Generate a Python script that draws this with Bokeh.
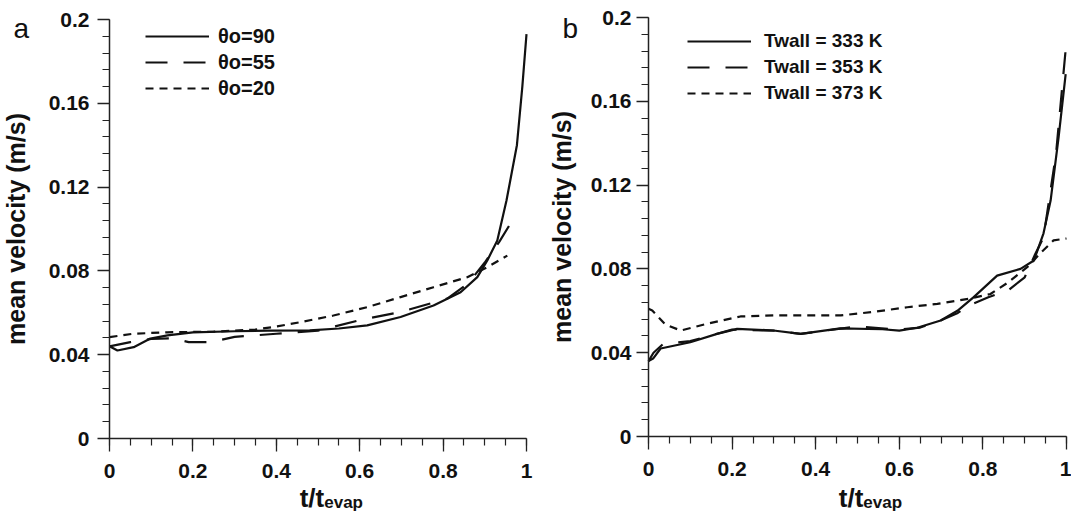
import numpy as np
from bokeh.plotting import figure
from bokeh.layouts import row
from bokeh.models import Range1d, FixedTicker, Legend, LegendItem, Label
from bokeh.embed import file_html
from bokeh.resources import INLINE

# ---------------- data ----------------
# Panel a: contact angle series
a_x_90 = [0, 0.019, 0.058, 0.098, 0.139, 0.2, 0.3, 0.38, 0.48, 0.55, 0.618, 0.698,
          0.777, 0.842, 0.882, 0.906, 0.93, 0.952, 0.977, 0.99, 1.0]
a_v_90 = [0.044, 0.042, 0.0436, 0.0477, 0.0492, 0.0507, 0.0512, 0.0515, 0.0516, 0.0525,
          0.054, 0.058, 0.0635, 0.0698, 0.077, 0.085, 0.0945, 0.1136, 0.140, 0.168, 0.193]

a_x_55 = [0, 0.05, 0.1, 0.15, 0.19, 0.243, 0.3, 0.4, 0.5, 0.6, 0.7, 0.81, 0.86, 0.9,
          0.935, 0.975]
a_v_55 = [0.044, 0.046, 0.0475, 0.0478, 0.046, 0.046, 0.0485, 0.050, 0.0515, 0.0565,
          0.0605, 0.0668, 0.074, 0.084, 0.094, 0.107]

a_x_20 = [0, 0.057, 0.138, 0.25, 0.35, 0.402, 0.457, 0.537, 0.618, 0.698, 0.777, 0.858,
          0.906, 0.954]
a_v_20 = [0.0484, 0.050, 0.0507, 0.051, 0.052, 0.0535, 0.0555, 0.0587, 0.0627, 0.0675,
          0.0722, 0.077, 0.0818, 0.0873]

# Panel b: wall temperature series
b_x_333 = [0, 0.011, 0.029, 0.1, 0.164, 0.212, 0.299, 0.364, 0.459, 0.56, 0.6, 0.643,
           0.699, 0.739, 0.778, 0.834, 0.89, 0.922, 0.945, 0.962, 0.981, 0.998]
b_v_333 = [0.036, 0.0372, 0.042, 0.045, 0.049, 0.0514, 0.0506, 0.049, 0.0516, 0.0512,
           0.0505, 0.0519, 0.0554, 0.060, 0.0665, 0.0768, 0.080, 0.084, 0.097, 0.1126,
           0.1427, 0.173]

b_x_353 = [0, 0.012, 0.035, 0.1, 0.2, 0.3, 0.364, 0.46, 0.5, 0.6, 0.65, 0.7, 0.74, 0.766,
           0.813, 0.86, 0.9, 0.925, 0.945, 0.975, 1.0]
b_v_353 = [0.036, 0.04, 0.0442, 0.0455, 0.051, 0.0505, 0.049, 0.0515, 0.0525, 0.051,
           0.052, 0.0555, 0.059, 0.0625, 0.0665, 0.0697, 0.076, 0.087, 0.095, 0.135, 0.189]

b_x_373 = [0, 0.009, 0.04, 0.077, 0.14, 0.22, 0.3, 0.46, 0.54, 0.619, 0.691, 0.77, 0.818,
           0.86, 0.906, 0.94, 0.969, 1.0]
b_v_373 = [0.061, 0.0601, 0.0535, 0.0506, 0.0538, 0.0573, 0.0578, 0.0578, 0.0595, 0.0617,
           0.0633, 0.0659, 0.068, 0.0735, 0.0808, 0.088, 0.0936, 0.0945]

a_labels = ["θo=90", "θo=55", "θo=20"]
b_labels = ["Twall = 333 K", "Twall = 353 K", "Twall = 373 K"]

x_ticks = [0, 0.2, 0.4, 0.6, 0.8, 1.0]
x_tick_labels = ["0", "0.2", "0.4", "0.6", "0.8", "1"]
y_ticks = [0, 0.04, 0.08, 0.12, 0.16, 0.2]
y_tick_labels = ["0", "0.04", "0.08", "0.12", "0.16", "0.2"]

y_title = "mean velocity (m/s)"
x_title_main = "t/t"
x_title_sub = "evap"

FONT = "Liberation Sans"
INK = "#111111"
DASHES = ["solid", "22 16", "8 6"]
H = 513


def make_panel(width, ax_left, ax_right, ax_top, ax_bottom, series, labels, letter,
               letter_px, letter_base, leg_px, leg_top, leg_standoff, leg_font,
               ylab_standoff, ytick_standoff, title_x):
    # pixel geometry of the axes box inside this canvas
    sx = (ax_right - ax_left) / 1.0
    sy = (ax_bottom - ax_top) / 0.2
    xr = Range1d(-ax_left / sx, (width - ax_left) / sx)
    yr = Range1d(-(H - ax_bottom) / sy, 0.2 + ax_top / sy)
    p = figure(width=width, height=H, output_backend="svg", toolbar_location=None,
               x_range=xr, y_range=yr, min_border=0)
    p.outline_line_color = None
    p.xgrid.visible = False
    p.ygrid.visible = False
    p.background_fill_color = "white"
    p.border_fill_color = "white"

    x_minor = [round(v, 3) for v in np.arange(0, 1.0001, 0.05)]
    y_minor = [round(v, 4) for v in np.arange(0, 0.2001, 0.008)]
    p.xaxis.ticker = FixedTicker(ticks=x_ticks, minor_ticks=x_minor)
    p.yaxis.ticker = FixedTicker(ticks=y_ticks, minor_ticks=y_minor)
    p.xaxis.major_label_overrides = {t: l for t, l in zip(x_ticks, x_tick_labels)}
    p.yaxis.major_label_overrides = {t: l for t, l in zip(y_ticks, y_tick_labels)}
    p.xaxis.fixed_location = 0
    p.yaxis.fixed_location = 0
    p.xaxis.bounds = (0, 1)
    p.yaxis.bounds = (0, 0.2)

    for ax in (p.xaxis[0], p.yaxis[0]):
        ax.axis_line_color = "#222222"
        ax.axis_line_width = 1.5
        ax.major_tick_line_color = "#222222"
        ax.minor_tick_line_color = "#222222"
        ax.major_tick_line_width = 1.3
        ax.minor_tick_line_width = 1.2
        ax.major_tick_in = 0
        ax.minor_tick_in = 0
        ax.minor_tick_out = 7
        ax.major_label_text_font = FONT
        ax.major_label_text_font_style = "bold"
        ax.major_label_text_font_size = "21px"
        ax.major_label_text_color = INK
    p.xaxis.major_tick_out = 13
    p.yaxis.major_tick_out = 12
    p.xaxis.major_label_standoff = 12
    p.yaxis.major_label_standoff = ytick_standoff

    p.yaxis.axis_label = y_title
    p.yaxis.axis_label_text_font = FONT
    p.yaxis.axis_label_text_font_style = "bold"
    p.yaxis.axis_label_text_font_size = "25px"
    p.yaxis.axis_label_text_color = INK
    p.yaxis.axis_label_standoff = ylab_standoff

    items = []
    for (xs, vs), lab, dash in zip(series, labels, DASHES):
        r = p.line(xs, vs, line_color=INK, line_width=2.2, line_dash=dash)
        items.append(LegendItem(label=lab, renderers=[r]))

    pitch = 26
    leg = Legend(items=items, location=(leg_px, H - (leg_top + 3 * pitch)),
                 orientation="vertical",
                 glyph_width=64, glyph_height=pitch, label_height=pitch, spacing=0,
                 padding=0, margin=0, label_standoff=leg_standoff,
                 border_line_alpha=0, background_fill_alpha=0,
                 label_text_font=FONT, label_text_font_style="bold",
                 label_text_font_size=leg_font, label_text_color=INK)
    p.add_layout(leg)

    # panel letter and x-axis title (texts placed in data space of the frame)
    p.add_layout(Label(x=(letter_px - ax_left) / sx, y=(ax_bottom - letter_base) / sy,
                       text=letter, text_font=FONT, text_font_size="28px",
                       text_color=INK, text_align="left", text_baseline="alphabetic"))
    p.add_layout(Label(x=title_x, y=(ax_bottom - 497) / sy, text=x_title_main,
                       text_font=FONT, text_font_style="bold", text_font_size="26px",
                       text_color=INK, text_align="right", text_baseline="alphabetic"))
    p.add_layout(Label(x=title_x, y=(ax_bottom - 502) / sy, text=x_title_sub,
                       text_font=FONT, text_font_style="bold", text_font_size="17px",
                       text_color=INK, text_align="left", text_baseline="alphabetic"))
    return p


pa = make_panel(540, 109, 526, 19, 438,
                [(a_x_90, a_v_90), (a_x_55, a_v_55), (a_x_20, a_v_20)], a_labels,
                "a", 13, 28, 145, 23, 9, "20px", 16, 8, 0.515)
pb = make_panel(531, 108, 526, 17, 436,
                [(b_x_333, b_v_333), (b_x_353, b_v_353), (b_x_373, b_v_373)], b_labels,
                "b", 22, 28, 147, 28, 13, "19px", 12, 5, 0.514)

layout = row(pa, pb, spacing=0)
open("out.html", "w").write(file_html(layout, INLINE))
